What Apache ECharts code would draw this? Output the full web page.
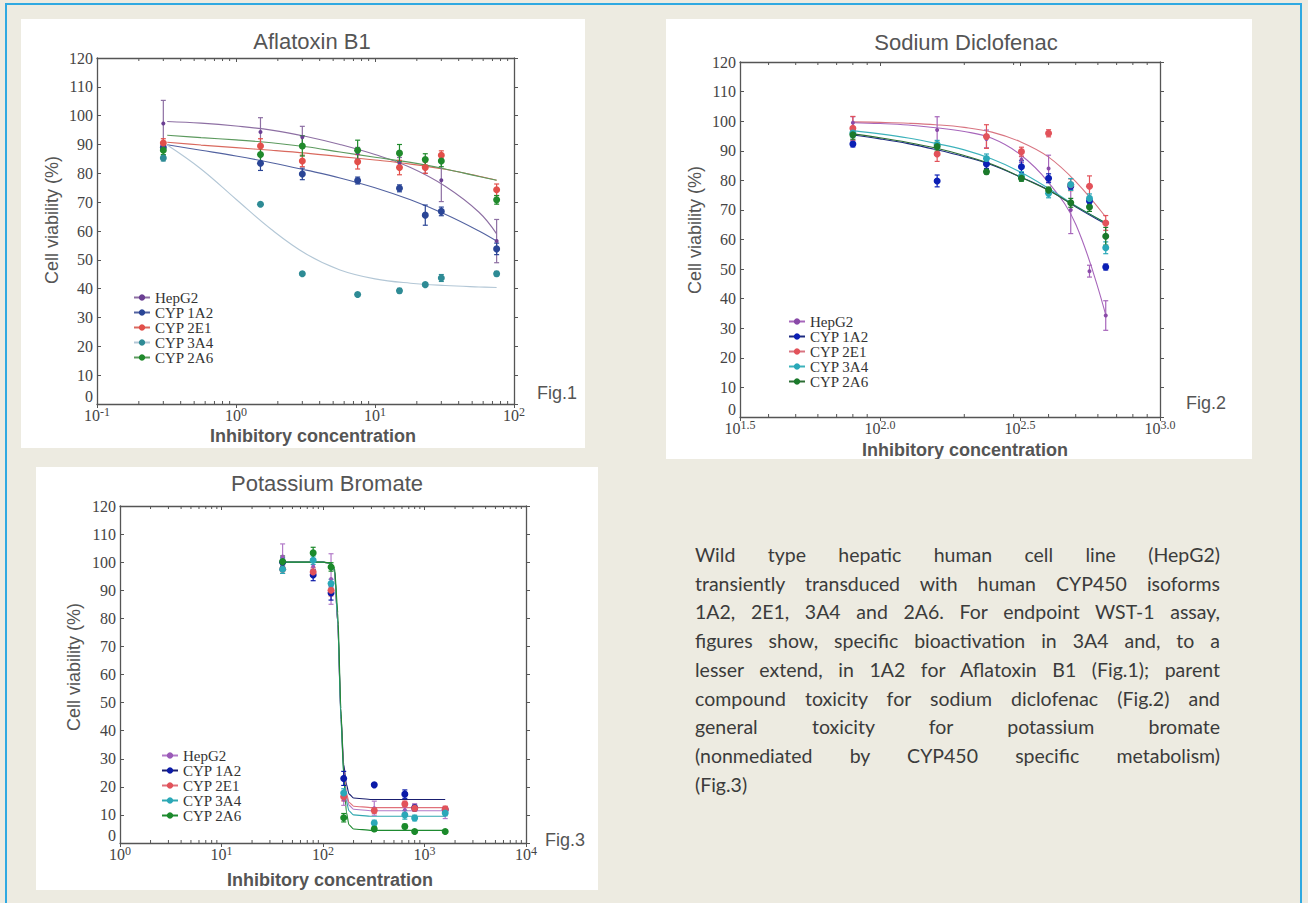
<!DOCTYPE html>
<html>
<head>
<meta charset="utf-8">
<title>CYP450 isoforms - WST-1</title>
<script src="https://cdn.jsdelivr.net/npm/echarts@6/dist/echarts.min.js"></script>
<style>
  html, body { margin: 0; padding: 0; }
  body { width: 1308px; height: 903px; background: #edebe1; position: relative; overflow: hidden; }
  #frame { position: absolute; left: 5px; top: 3px; width: 1293px; height: 1000px; border: 2px solid #2fa9e1; border-bottom: none; }
  .panel { position: absolute; background: #fff; }
  #fig1 { left: 21px; top: 19px; width: 564px; height: 429px; }
  #fig2 { left: 666px; top: 19px; width: 586px; height: 440px; }
  #fig3 { left: 36px; top: 467px; width: 562px; height: 423px; }
  #caption { position: absolute; left: 695px; top: 541px; width: 525px; font-family: Lato, "Open Sans", sans-serif; font-size: 19.5px; line-height: 28.7px; color: #3b3b3b; }
  #caption div { text-align: justify; text-align-last: justify; }
  #caption div.last { text-align-last: left; }
</style>
</head>
<body>
<div id="frame"></div>
<div id="fig1" class="panel"></div>
<div id="fig2" class="panel"></div>
<div id="fig3" class="panel"></div>
<div id="caption">
  <div>Wild type hepatic human cell line (HepG2)</div>
  <div>transiently transduced with human CYP450 isoforms</div>
  <div>1A2, 2E1, 3A4 and 2A6. For endpoint WST-1 assay,</div>
  <div>figures show, specific bioactivation in 3A4 and, to a</div>
  <div>lesser extend, in 1A2 for Aflatoxin B1 (Fig.1); parent</div>
  <div>compound toxicity for sodium diclofenac (Fig.2) and</div>
  <div>general toxicity for potassium bromate</div>
  <div>(nonmediated by CYP450 specific metabolism)</div>
  <div class="last">(Fig.3)</div>
</div>
<script>
var series_names = ['HepG2', 'CYP 1A2', 'CYP 2E1', 'CYP 3A4', 'CYP 2A6'];

// Fig.1 Aflatoxin B1
var afla_conc = [0.3, 1.5, 3, 7.5, 15, 23, 30, 75];
var afla_hepg2 = [97.3, 94.3, 92.5, 87, 83.5, 82, 77.6, 56.5];
var afla_1a2 = [89, 83.5, 79.8, 77.5, 74.8, 65.5, 66.8, 53.8];
var afla_2e1 = [90.5, 89.5, 84.3, 84, 82, 82, 86.3, 74.3];
var afla_3a4 = [85.3, 69.3, 45.2, 38, 39.3, 41.4, 43.7, 45.2];
var afla_2a6 = [88, 86.5, 89.5, 88, 87, 84.8, 84.3, 70.8];
var afla_hepg2_err = [8, 5, 3.8, 2, 2, 2, 7.4, 7.5];
var afla_1a2_err = [1, 2.5, 2, 1.2, 1.2, 3.5, 1.5, 2];
var afla_2e1_err = [1.5, 2.5, 2, 2.5, 2.5, 2, 1.5, 2];
var afla_3a4_err = [1, 0.5, 0.5, 0.5, 0.8, 0.5, 1.2, 0.8];
var afla_2a6_err = [1.5, 3, 3.5, 3.5, 3, 2, 2, 1.5];
var afla_fit_conc = [0.32, 0.56, 1, 1.8, 3.2, 5.6, 10, 18, 32, 56, 75];
var afla_fit_hepg2 = [98, 97.4, 96.4, 95, 92.8, 90, 86.5, 82, 75.5, 66.5, 59];
var afla_fit_1a2 = [89.9, 88, 86, 83.7, 81.1, 78.4, 75, 70.8, 65.8, 60, 56.5];
var afla_fit_2e1 = [90.8, 89.8, 88.9, 88, 87, 85.8, 84.6, 83.2, 81.4, 79, 77.6];
var afla_fit_3a4 = [89.8, 81.5, 71, 60.5, 52, 46.5, 43.4, 41.9, 41.1, 40.6, 40.4];
var afla_fit_2a6 = [93.2, 92.4, 91.6, 90.6, 89.2, 87.4, 85.6, 83.8, 81.5, 78.9, 77.6];
var afla_minor = [0.2, 0.3, 0.4, 0.5, 0.6, 0.7, 0.8, 0.9, 2, 3, 4, 5, 6, 7, 8, 9, 20, 30, 40, 50, 60, 70, 80, 90];

// Fig.2 Sodium Diclofenac
var diclo_conc = [80, 160, 240, 320, 400, 480, 560, 640];
var diclo_hepg2 = [99.5, 97, 94, 87, 84, 70, 49.3, 34.3];
var diclo_1a2 = [92.3, 79.8, 85.5, 84.6, 80.7, 78, 73, 50.7];
var diclo_2e1 = [97.6, 88.9, 94.8, 89.7, 95.9, 78.5, 78, 65.6];
var diclo_3a4 = [96, 92, 87.4, 81.4, 75.6, 78.6, 73.9, 57.2];
var diclo_2a6 = [95.4, 91.4, 82.9, 80.7, 76.7, 72.4, 71, 61.1];
var diclo_hepg2_err = [2, 4.5, 3, 1, 4.5, 8, 2, 5];
var diclo_1a2_err = [1, 2, 1.5, 2, 1.5, 1, 1, 1];
var diclo_2e1_err = [4, 2.5, 4, 1.5, 1.2, 2, 3.5, 2.5];
var diclo_3a4_err = [1.5, 1.5, 1.5, 1.5, 1.5, 2, 1.5, 2];
var diclo_2a6_err = [1.5, 1.5, 0.8, 1, 1, 1.5, 1.5, 3];
var diclo_fit_conc = [80, 100, 126, 158, 200, 251, 316, 398, 501, 640];
var diclo_fit_hepg2 = [99.5, 99.2, 98.7, 97.8, 96.5, 94.2, 88.8, 79.5, 65, 34.5];
var diclo_fit_1a2 = [95.3, 94, 92.4, 90.4, 88, 85.2, 81.2, 76.8, 71, 65.2];
var diclo_fit_2e1 = [99.8, 99.6, 99.3, 98.8, 97.9, 96.3, 93.1, 88, 79.5, 67.6];
var diclo_fit_3a4 = [96.8, 95.7, 94.3, 92.5, 90.3, 87.2, 82.9, 77.4, 71.3, 65.6];
var diclo_fit_2a6 = [95.7, 94.4, 92.8, 90.9, 88.4, 85.4, 81.2, 76.7, 71.2, 65.6];
var diclo_minor = [40, 50, 60, 70, 80, 90, 200, 300, 400, 500, 600, 700, 800, 900];

// Fig.3 Potassium Bromate
var bromate_conc = [40, 80, 120, 160, 320, 640, 800, 1600];
var bromate_hepg2 = [102, 98.5, 94, 15.4, 12.4, 11.8, 13, 10.2];
var bromate_1a2 = [100, 95.4, 89, 23, 20.7, 17.4, 12.5, 11.8];
var bromate_2e1 = [97.5, 96.5, 90, 16.5, 11.6, 13.9, 12.4, 12.1];
var bromate_3a4 = [97.5, 100.7, 92.4, 17.8, 7.1, 10, 8.9, 10.7];
var bromate_2a6 = [100.2, 103.3, 98.3, 9, 5, 5.9, 4.1, 4.1];
var bromate_hepg2_err = [4.5, 2, 9, 2, 2.5, 1, 1, 1.5];
var bromate_1a2_err = [1.5, 2, 2.5, 2.5, 0.5, 1.5, 1, 1];
var bromate_2e1_err = [1.5, 1.5, 2, 1.5, 1, 1, 1, 1];
var bromate_3a4_err = [1.5, 1.5, 1.5, 1.5, 1, 1.5, 1, 1];
var bromate_2a6_err = [2, 2, 1.5, 1.5, 0.8, 0.8, 0.5, 0.5];
var bromate_fit_conc = [40, 100, 120, 130, 140, 150, 160, 170, 180, 200, 300, 1600];
var bromate_fit_hepg2 = [100, 100, 99.6, 97, 78, 45, 26, 17, 13.5, 12, 11.5, 11.5];
var bromate_fit_1a2 = [100, 100, 99.6, 97, 78, 46, 28, 21, 17.5, 16, 15.5, 15.5];
var bromate_fit_2e1 = [100, 100, 99.6, 97, 78, 45, 26, 18, 14.5, 13.1, 12.6, 12.6];
var bromate_fit_3a4 = [100, 100, 99.6, 97, 78, 44, 24, 15, 11.5, 10, 9.5, 9.5];
var bromate_fit_2a6 = [100, 100, 99.7, 98, 82, 48, 24, 11, 6.5, 5, 4.5, 4.5];
var bromate_minor = [2, 3, 4, 5, 6, 7, 8, 9, 20, 30, 40, 50, 60, 70, 80, 90, 200, 300, 400, 500, 600, 700, 800, 900, 2000, 3000, 4000, 5000, 6000, 7000, 8000, 9000];

var sans = "'Liberation Sans', Arial, sans-serif";
var serif = "'Liberation Serif', 'Times New Roman', serif";

function pairs(xs, ys) {
  return xs.map(function (x, i) { return [Math.log10(x), ys[i]]; });
}

function errRows(xs, ys, es) {
  return xs.map(function (x, i) { return [Math.log10(x), ys[i] - es[i], ys[i] + es[i]]; });
}

function renderErr(params, api) {
  var top = api.coord([api.value(0), api.value(2)]);
  var bot = api.coord([api.value(0), api.value(1)]);
  var c = 2.5;
  var style = { stroke: api.visual('color'), lineWidth: 1.2 };
  return {
    type: 'group',
    children: [
      { type: 'line', shape: { x1: top[0], y1: top[1], x2: bot[0], y2: bot[1] }, style: style },
      { type: 'line', shape: { x1: top[0] - c, y1: top[1], x2: top[0] + c, y2: top[1] }, style: style },
      { type: 'line', shape: { x1: bot[0] - c, y1: bot[1], x2: bot[0] + c, y2: bot[1] }, style: style }
    ]
  };
}

function renderMinor(params, api) {
  var b = api.coord([api.value(0), 0]);
  var t = api.coord([api.value(0), 120]);
  var style = { stroke: '#555', lineWidth: 1 };
  return {
    type: 'group',
    children: [
      { type: 'line', shape: { x1: b[0], y1: b[1], x2: b[0], y2: b[1] - 3 }, style: style },
      { type: 'line', shape: { x1: t[0], y1: t[1], x2: t[0], y2: t[1] + 3 }, style: style }
    ]
  };
}

function txt(x, y, text, size, weight, align, rot) {
  return {
    type: 'text', x: x, y: y, rotation: rot || 0, silent: true,
    style: {
      text: text, fill: '#555', font: weight + ' ' + size + 'px ' + sans,
      align: align, verticalAlign: 'middle', textAlign: align, textVerticalAlign: 'middle'
    }
  };
}

function buildChart(elId, cfg) {
  var myChart = echarts.init(document.getElementById(elId), null, { renderer: 'svg' });
  var series = [];
  cfg.sets.forEach(function (s, i) {
    var curve = {
      name: series_names[i], type: 'line', data: pairs(cfg.fitConc, s.fit),
      smooth: cfg.smooth,
      symbol: 'circle', symbolSize: i === 0 ? 4 : 7, showSymbol: false,
      lineStyle: { color: cfg.lineColors[i], width: 1.1 },
      itemStyle: { color: cfg.colors[i] },
      silent: true, z: 2
    };
    if (cfg.monotone) curve.smoothMonotone = cfg.monotone;
    series.push(curve);
  });
  cfg.sets.forEach(function (s, i) {
    series.push({
      name: series_names[i], type: 'custom', renderItem: renderErr,
      encode: { x: 0, y: [1, 2] },
      data: errRows(cfg.conc, s.pts, s.err),
      itemStyle: { color: i === 0 ? cfg.lineColors[0] : cfg.colors[i] },
      silent: true, z: 3
    });
    series.push({
      name: series_names[i], type: 'scatter', data: pairs(cfg.conc, s.pts),
      symbol: 'circle', symbolSize: i === 0 ? 4 : 7,
      itemStyle: { color: cfg.colors[i], opacity: 1 },
      silent: true, z: 4
    });
  });
  series.push({
    type: 'custom', renderItem: renderMinor, encode: { x: 0 },
    data: cfg.minor.map(function (v) { return [Math.log10(v)]; }),
    silent: true, z: 1
  });

  var labelRich = {
    b: { fontFamily: serif, fontSize: 16, color: '#444', verticalAlign: 'bottom' },
    s: { fontFamily: serif, fontSize: 12, color: '#444', verticalAlign: 'bottom', padding: [0, 0, 5, 0] }
  };
  var axisLine = { show: true, onZero: false, lineStyle: { color: '#555', width: 1.3 } };

  var option = {
    animation: false,
    grid: { left: cfg.grid[0], top: cfg.grid[1], width: cfg.grid[2], height: cfg.grid[3] },
    legend: {
      data: series_names, orient: 'vertical', left: cfg.legend[0], top: cfg.legend[1],
      itemWidth: 16, itemHeight: 8, itemGap: 0, padding: 0, selectedMode: false,
      textStyle: { fontFamily: serif, fontSize: 15, color: '#333', lineHeight: 14.5 }
    },
    xAxis: [{
      type: 'value', min: cfg.xMin, max: cfg.xMax, interval: cfg.xInterval, position: 'bottom',
      axisLine: axisLine, splitLine: { show: false },
      axisTick: { show: true, inside: false, length: 4, lineStyle: { color: '#555' } },
      axisLabel: {
        margin: 2, rich: labelRich,
        formatter: function (v) { return '{b|10}{s|' + (cfg.xDigits ? v.toFixed(cfg.xDigits) : v) + '}'; }
      }
    }, {
      type: 'value', min: cfg.xMin, max: cfg.xMax, interval: cfg.xInterval, position: 'top',
      axisLine: axisLine, splitLine: { show: false },
      axisTick: { show: true, inside: true, length: 4, lineStyle: { color: '#555' } },
      axisLabel: { show: false }
    }],
    yAxis: [{
      type: 'value', min: 0, max: 120, interval: 10, position: 'left',
      axisLine: axisLine, splitLine: { show: false },
      axisTick: { show: true, inside: true, length: 4, lineStyle: { color: '#555' } },
      axisLabel: { margin: 4, fontFamily: serif, fontSize: 16, color: '#444', verticalAlignMinLabel: 'bottom' }
    }, {
      type: 'value', min: 0, max: 120, interval: 10, position: 'right',
      axisLine: axisLine, splitLine: { show: false },
      axisTick: { show: true, inside: false, length: 4, lineStyle: { color: '#555' } },
      axisLabel: { show: false }
    }],
    graphic: [
      txt(cfg.title[0], cfg.title[1], cfg.title[2], 22, 'normal', 'center'),
      txt(cfg.yName[0], cfg.yName[1], 'Cell viability (%)', 18, 'normal', 'center', Math.PI / 2),
      txt(cfg.xName[0], cfg.xName[1], 'Inhibitory concentration', 18, 'bold', 'center'),
      txt(cfg.fig[0], cfg.fig[1], cfg.fig[2], 18, 'normal', 'left')
    ],
    series: series
  };
  myChart.setOption(option);
}

buildChart('fig1', {
  title: [291, 22, 'Aflatoxin B1'], yName: [31, 201], xName: [292, 417], fig: [516, 374, 'Fig.1'],
  grid: [76, 39, 417, 346], legend: [112, 271],
  xMin: -1, xMax: 2, xInterval: 1, xDigits: 0, smooth: 0.4,
  conc: afla_conc, fitConc: afla_fit_conc, minor: afla_minor,
  colors: ['#6b3f93', '#2a4596', '#e24f4a', '#2e8b95', '#208a2c'],
  lineColors: ['#8d6fa3', '#5262a0', '#d9695e', '#b3c7d6', '#5c9a5e'],
  sets: [
    { pts: afla_hepg2, err: afla_hepg2_err, fit: afla_fit_hepg2 },
    { pts: afla_1a2, err: afla_1a2_err, fit: afla_fit_1a2 },
    { pts: afla_2e1, err: afla_2e1_err, fit: afla_fit_2e1 },
    { pts: afla_3a4, err: afla_3a4_err, fit: afla_fit_3a4 },
    { pts: afla_2a6, err: afla_2a6_err, fit: afla_fit_2a6 }
  ]
});

buildChart('fig2', {
  title: [300, 23, 'Sodium Diclofenac'], yName: [29, 211], xName: [299, 431], fig: [520, 384, 'Fig.2'],
  grid: [74, 43, 420, 355], legend: [122, 295],
  xMin: 1.5, xMax: 3, xInterval: 0.5, xDigits: 1, smooth: 0.4,
  conc: diclo_conc, fitConc: diclo_fit_conc, minor: diclo_minor,
  colors: ['#8a4aa8', '#0b1fb5', '#e2525a', '#2aa8b8', '#1b7a2b'],
  lineColors: ['#a766bb', '#1c2a80', '#d87481', '#3cb2bb', '#2c6e34'],
  sets: [
    { pts: diclo_hepg2, err: diclo_hepg2_err, fit: diclo_fit_hepg2 },
    { pts: diclo_1a2, err: diclo_1a2_err, fit: diclo_fit_1a2 },
    { pts: diclo_2e1, err: diclo_2e1_err, fit: diclo_fit_2e1 },
    { pts: diclo_3a4, err: diclo_3a4_err, fit: diclo_fit_3a4 },
    { pts: diclo_2a6, err: diclo_2a6_err, fit: diclo_fit_2a6 }
  ]
});

buildChart('fig3', {
  title: [291, 16, 'Potassium Bromate'], yName: [38, 200], xName: [294, 413], fig: [509, 373, 'Fig.3'],
  grid: [84, 39, 406, 337], legend: [125, 281],
  xMin: 0, xMax: 4, xInterval: 1, xDigits: 0, smooth: 0.2, monotone: 'x',
  conc: bromate_conc, fitConc: bromate_fit_conc, minor: bromate_minor,
  colors: ['#9a5ab8', '#0b1aa8', '#e2525a', '#2aa8b8', '#1b8a2b'],
  lineColors: ['#b27ac8', '#1a1f70', '#e0707a', '#30a8b0', '#1e8a30'],
  sets: [
    { pts: bromate_hepg2, err: bromate_hepg2_err, fit: bromate_fit_hepg2 },
    { pts: bromate_1a2, err: bromate_1a2_err, fit: bromate_fit_1a2 },
    { pts: bromate_2e1, err: bromate_2e1_err, fit: bromate_fit_2e1 },
    { pts: bromate_3a4, err: bromate_3a4_err, fit: bromate_fit_3a4 },
    { pts: bromate_2a6, err: bromate_2a6_err, fit: bromate_fit_2a6 }
  ]
});
</script>
</body>
</html>
